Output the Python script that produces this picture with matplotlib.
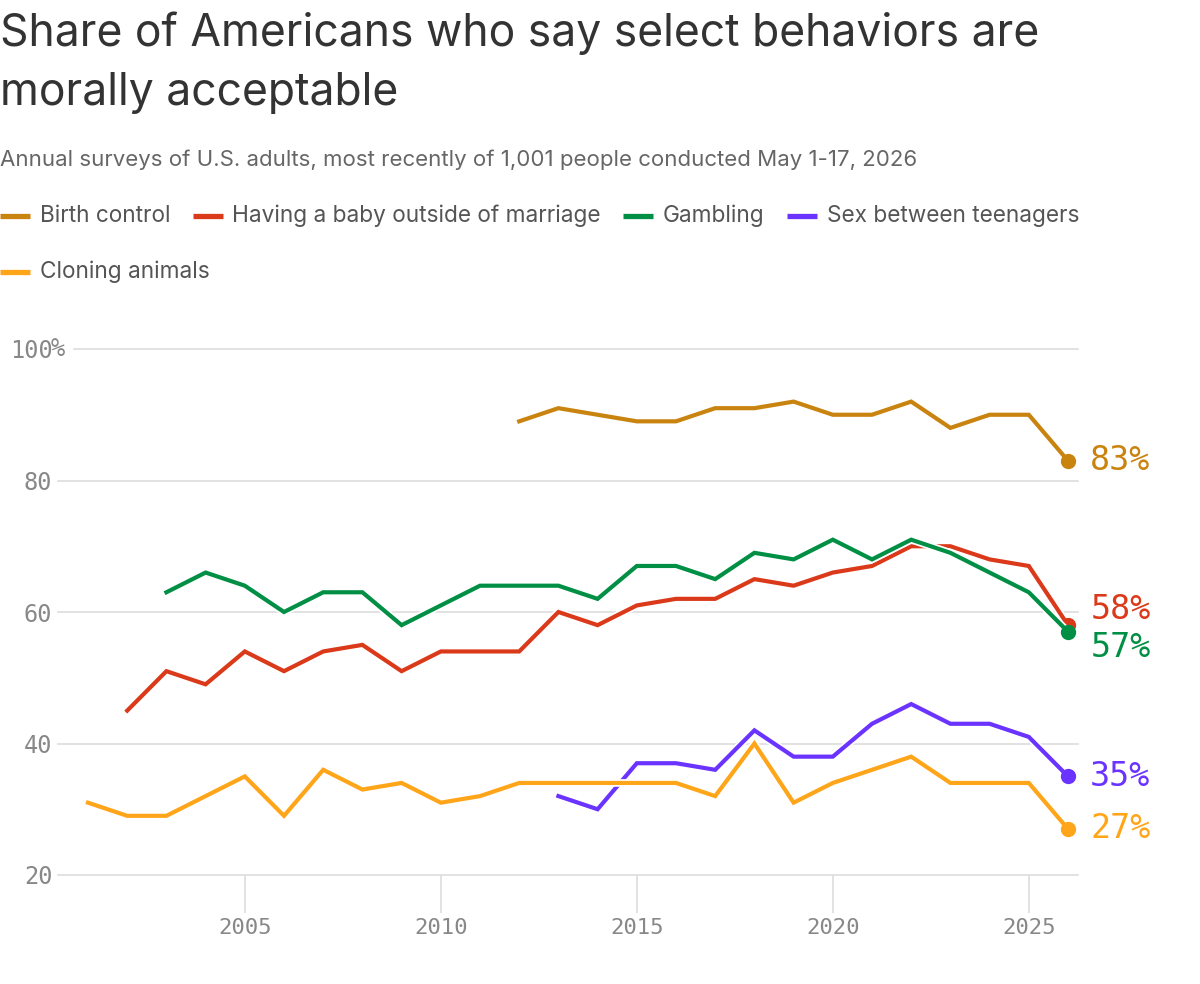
import matplotlib
matplotlib.use("Agg")
import matplotlib.pyplot as plt
import matplotlib.patheffects as pe
from matplotlib.lines import Line2D

# ---------------- data ----------------
series_names = ["Birth control", "Having a baby outside of marriage", "Gambling",
                "Sex between teenagers", "Cloning animals"]
colors = ["#c9830f", "#db3a1a", "#008f45", "#6a33ff", "#ffa519"]

years_birth = list(range(2012, 2027))
birth_control = [89, 91, 90, 89, 89, 91, 91, 92, 90, 90, 92, 88, 90, 90, 83]

years_baby = list(range(2002, 2027))
baby_outside = [45, 51, 49, 54, 51, 54, 55, 51, 54, 54, 54, 60, 58, 61, 62, 62, 65, 64,
                66, 67, 70, 70, 68, 67, 58]

years_gamb = list(range(2003, 2027))
gambling = [63, 66, 64, 60, 63, 63, 58, 61, 64, 64, 64, 62, 67, 67, 65, 69, 68, 71, 68,
            71, 69, 66, 63, 57]

years_teen = list(range(2013, 2027))
teen_sex = [32, 30, 37, 37, 36, 42, 38, 38, 43, 46, 43, 43, 41, 35]

years_clone = list(range(2001, 2027))
cloning = [31, 29, 29, 32, 35, 29, 36, 33, 34, 31, 32, 34, 34, 34, 34, 34, 32, 40, 31,
           34, 36, 38, 34, 34, 34, 27]

all_years = [years_birth, years_baby, years_gamb, years_teen, years_clone]
all_vals = [birth_control, baby_outside, gambling, teen_sex, cloning]

x_ticks = [2005, 2010, 2015, 2020, 2025]
y_ticks = [20, 40, 60, 80, 100]
y_ticklabels = ["20", "40", "60", "80", "100"]

title_lines = ["Share of Americans who say select behaviors are", "morally acceptable"]
subtitle = "Annual surveys of U.S. adults, most recently of 1,001 people conducted May 1-17, 2026"

# ---------------- figure ----------------
W, H = 1200, 984
fig = plt.figure(figsize=(W / 100, H / 100), dpi=100)
fig.patch.set_facecolor("white")

sans = ["Inter", "DejaVu Sans"]
mono = ["DejaVu Sans Mono"]

fig.text(0, 1 - 33 / H, title_lines[0], fontsize=32, color="#333333", family=sans,
         ha="left", va="center")
fig.text(0, 1 - 93 / H, title_lines[1], fontsize=32, color="#333333", family=sans,
         ha="left", va="center")
fig.text(0, 1 - 160 / H, subtitle, fontsize=16, color="#666666", family=sans,
         ha="left", va="center")

# legend (manual, wrapped in two rows)
fig.canvas.draw()
renderer = fig.canvas.get_renderer()
leg_rows = [(216, [0, 1, 2, 3]), (272, [4])]
for ypx, idxs in leg_rows:
    x = 0.0
    for i in idxs:
        fig.add_artist(Line2D([x / W, (x + 30) / W], [1 - ypx / H] * 2,
                              color=colors[i], lw=3.8, solid_capstyle="butt",
                              transform=fig.transFigure))
        t = fig.text((x + 40) / W, 1 - ypx / H, series_names[i], fontsize=16.3,
                     color="#555555", family=sans, ha="left", va="center")
        bb = t.get_window_extent(renderer=renderer)
        x = bb.x1 + 22

# axes
ax_left, ax_right = 58, 1078
ax_top, ax_bot = 349, 875
ax = fig.add_axes([ax_left / W, 1 - ax_bot / H, (ax_right - ax_left) / W,
                   (ax_bot - ax_top) / H])
px_per_year = (1068 - 88) / 25
ax.set_xlim(2001 - (88 - ax_left) / px_per_year, 2026 + (ax_right - 1068) / px_per_year)
ax.set_ylim(20, 100)
for s in ax.spines.values():
    s.set_visible(False)

grid_c = "#dddddd"
for yv in y_ticks:
    xmin = 16 / (ax_right - ax_left) if yv == 100 else 0
    ax.axhline(yv, xmin=xmin, xmax=1, color=grid_c, lw=1.2, zorder=0, clip_on=False)

ax.set_yticks(y_ticks)
ax.set_yticklabels(y_ticklabels)
ax.tick_params(axis="y", length=0, pad=4, labelsize=17, labelcolor="#888888")
for lab in ax.get_yticklabels():
    lab.set_family(mono)
ax.annotate("%", xy=(0, 100), xycoords=("axes fraction", "data"),
            xytext=(-5, 0), textcoords="offset points", ha="left", va="center",
            fontsize=17, color="#888888", family=mono)

ax.set_xticks(x_ticks)
ax.set_xticklabels([str(v) for v in x_ticks])
ax.tick_params(axis="x", length=27, width=1.2, color=grid_c, pad=4, labelsize=16,
               labelcolor="#888888")
for lab in ax.get_xticklabels():
    lab.set_family(mono)

label_offsets = [0, 2.4, -2.4, 0, 0]
for i, (yrs, vals) in enumerate(zip(all_years, all_vals)):
    ax.plot(yrs, vals, color=colors[i], lw=3, solid_joinstyle="miter",
            path_effects=[pe.Stroke(linewidth=5.5, foreground="white"), pe.Normal()],
            zorder=3 + i, clip_on=False)
    ax.plot([yrs[-1]], [vals[-1]], "o", color=colors[i], ms=10, zorder=3 + i,
            clip_on=False)
    ax.annotate(f"{vals[-1]}%", xy=(yrs[-1], vals[-1] + label_offsets[i]),
                xytext=(16, 0), textcoords="offset points", ha="left", va="center",
                fontsize=24, color=colors[i], family=mono, annotation_clip=False)

fig.savefig("out.png", dpi=100, facecolor="white")
